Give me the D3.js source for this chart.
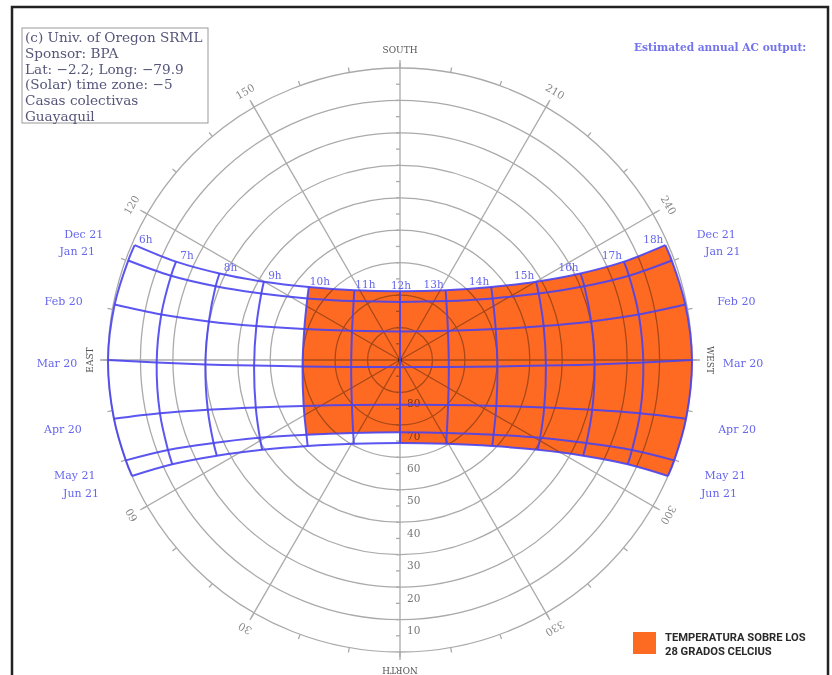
<!DOCTYPE html>
<html>
<head>
<meta charset="utf-8">
<script src="https://cdn.jsdelivr.net/npm/d3@7"></script>
<style>
  body { margin: 0; background: #fff; }
  svg { display: block; }
  .serif { font-family: "DejaVu Serif", "Liberation Serif", serif; }
</style>
</head>
<body>
<svg id="chart" width="832" height="675"></svg>
<script>
// ---- data (azimuth from north, clockwise; altitude in degrees) ----
const dateNames = ["Dec 21", "Jan 21", "Feb 20", "Mar 20", "Apr 20", "May 21", "Jun 21"];
const hourLabels = ["6h", "7h", "8h", "9h", "10h", "11h", "12h", "13h", "14h", "15h", "16h", "17h", "18h"];

const azDec21  = [113.4, 113.7, 115.6, 119.9, 128.7, 146.8, 180, 213.2, 231.3, 240.1, 244.4, 246.3, 246.6];
const altDec21 = [0.9, 14.6, 28.3, 41.6, 54.0, 64.3, 68.8, 64.3, 54.0, 41.6, 28.3, 14.6, 0.9];
const azJan21  = [110.1, 110.2, 111.8, 115.6, 123.6, 141.8, 180, 218.2, 236.4, 244.4, 248.2, 249.8, 249.9];
const altJan21 = [0.8, 14.8, 28.8, 42.6, 55.7, 66.9, 72.1, 66.9, 55.7, 42.6, 28.8, 14.8, 0.8];
const azFeb20  = [101.0, 100.8, 101.4, 103.3, 107.9, 121.3, 180, 238.7, 252.1, 256.7, 258.6, 259.2, 259.0];
const altFeb20 = [0.4, 15.1, 29.9, 44.5, 59.0, 72.7, 81.2, 72.7, 59.0, 44.5, 29.9, 15.1, 0.4];
const azMar20  = [90, 89.4, 88.7, 87.8, 86.2, 81.9, 0, 278.1, 273.8, 272.2, 271.3, 270.6, 270];
const altMar20 = [0, 15.0, 30.0, 45.0, 59.9, 74.8, 87.8, 74.8, 59.9, 45.0, 30.0, 15.0, 0];
const azApr20  = [78.4, 77.5, 75.5, 71.8, 64.5, 46.9, 0, 313.1, 295.5, 288.2, 284.5, 282.5, 281.6];
const altApr20 = [0, 14.2, 28.8, 43.2, 57.1, 69.7, 76.2, 69.7, 57.1, 43.2, 28.8, 14.2, 0];
const azMay21  = [69.9, 68.8, 66.0, 61.0, 51.4, 32.7, 0, 327.3, 308.6, 299.0, 294.0, 291.2, 290.1];
const altMay21 = [0, 13.3, 27.1, 40.6, 53.1, 63.3, 67.7, 63.3, 53.1, 40.6, 27.1, 13.3, 0];
const azJun21  = [66.6, 65.4, 62.4, 56.9, 47.0, 28.8, 0, 331.2, 313.0, 303.1, 297.6, 294.6, 293.4];
const altJun21 = [0, 12.8, 26.3, 39.3, 51.1, 60.5, 64.4, 60.5, 51.1, 39.3, 26.3, 12.8, 0];

const ringAltitudes = [0, 10, 20, 30, 40, 50, 60, 70, 80];
const ringLabels = ["10", "20", "30", "40", "50", "60", "70", "80"];
const spokeAzimuths = [0, 30, 60, 90, 120, 150, 180, 210, 240, 270, 300, 330];
const spokeLabels = ["NORTH", "30", "60", "EAST", "120", "150", "SOUTH", "210", "240", "WEST", "300", "330"];

// hot period (> 28 °C): 10h–18h from Dec 21 to May 21, 12h–18h down to Jun 21
const hotFirstHour = "10h";
const hotSplitHour = "12h";
const hotLastHour = "18h";
const hotMorningLastDate = "May 21";
const hotLastDate = "Jun 21";

const infoLines = ["(c) Univ. of Oregon SRML", "Sponsor: BPA", "Lat: \u22122.2; Long: \u221279.9",
                   "(Solar) time zone: \u22125", "Casas colectivas", "Guayaquil"];

// ---- setup ----
const svg = d3.select("#chart");
const cx = 400, cy = 360, R = 292;

const radius = d3.scaleLinear().domain([90, 0]).range([0, R]);
// south at top, east on the left
const angle = d3.scaleLinear().domain([0, 360]).range([Math.PI, 3 * Math.PI]);

const paths = [
  { name: dateNames[0], az: azDec21, alt: altDec21 },
  { name: dateNames[1], az: azJan21, alt: altJan21 },
  { name: dateNames[2], az: azFeb20, alt: altFeb20 },
  { name: dateNames[3], az: azMar20, alt: altMar20 },
  { name: dateNames[4], az: azApr20, alt: altApr20 },
  { name: dateNames[5], az: azMay21, alt: altMay21 },
  { name: dateNames[6], az: azJun21, alt: altJun21 }
];
paths.forEach(p => p.pts = p.az.map((a, j) => ({ az: a, alt: p.alt[j] })));

const proj = d => d3.pointRadial(angle(d.az), radius(d.alt));

const line = d3.lineRadial()
  .angle(d => angle(d.az))
  .radius(d => radius(d.alt))
  .curve(d3.curveCatmullRom.alpha(0.5));

const hourLine = j => paths.map(p => p.pts[j]);

const g = svg.append("g").attr("transform", `translate(${cx},${cy})`);

// ---- grid ----
const grid = g.append("g").attr("fill", "none").attr("stroke", "#aaa").attr("stroke-width", 1.3);

grid.selectAll("circle").data(ringAltitudes).join("circle")
  .attr("r", d => radius(d));

grid.selectAll("line.spoke").data(spokeAzimuths).join("line")
  .attr("class", "spoke")
  .attr("x1", 0).attr("y1", 0)
  .attr("x2", d => d3.pointRadial(angle(d), R + 8)[0])
  .attr("y2", d => d3.pointRadial(angle(d), R + 8)[1]);

grid.selectAll("line.tick").data(d3.range(0, 360, 10)).join("line")
  .attr("class", "tick")
  .attr("x1", d => d3.pointRadial(angle(d), R)[0])
  .attr("y1", d => d3.pointRadial(angle(d), R)[1])
  .attr("x2", d => d3.pointRadial(angle(d), R + 5)[0])
  .attr("y2", d => d3.pointRadial(angle(d), R + 5)[1]);

// small altitude ticks along the N-S axis
const axisTicks = d3.range(5, 90, 5);
grid.selectAll("line.ntick").data(axisTicks).join("line")
  .attr("class", "ntick")
  .attr("x1", -4).attr("x2", 0)
  .attr("y1", d => radius(d)).attr("y2", d => radius(d));
grid.selectAll("line.stick").data(axisTicks).join("line")
  .attr("class", "stick")
  .attr("x1", -4).attr("x2", 0)
  .attr("y1", d => -radius(d)).attr("y2", d => -radius(d));

g.append("circle").attr("r", 2).attr("fill", "#333");

// ring labels along the north axis
g.append("g").attr("class", "serif")
  .selectAll("text").data(ringLabels).join("text")
  .attr("x", 7)
  .attr("y", d => radius(+d) + 11)
  .attr("dy", "0.35em")
  .attr("font-size", 10.5)
  .attr("fill", "#777")
  .text(d => d);

// azimuth labels, written along the circle
g.append("g").attr("class", "serif")
  .selectAll("text").data(spokeAzimuths).join("text")
  .attr("transform", d => {
    const [x, y] = d3.pointRadial(angle(d), R + 18);
    const rot = angle(d) * 180 / Math.PI;
    return `translate(${x},${y}) rotate(${rot})`;
  })
  .attr("text-anchor", "middle")
  .attr("dy", "0.35em")
  .attr("font-size", (d, i) => isNaN(+spokeLabels[i]) ? 9 : 10.5)
  .attr("fill", (d, i) => isNaN(+spokeLabels[i]) ? "#555" : "#888")
  .text((d, i) => spokeLabels[i]);

// ---- hot region ----
const hi = h => hourLabels.indexOf(h);
const di = n => dateNames.indexOf(n);
const seg = pts => line(pts);
const joinSeg = pts => "L" + seg(pts).slice(1);

const h0 = hi(hotFirstHour), hs = hi(hotSplitHour), h1 = hi(hotLastHour);
const dm = di(hotMorningLastDate), dl = di(hotLastDate);

const hotPath =
  seg(paths[0].pts.slice(h0, h1 + 1)) +
  joinSeg(hourLine(h1).slice(0, dl + 1)) +
  joinSeg(paths[dl].pts.slice(hs, h1 + 1).reverse()) +
  joinSeg(hourLine(hs).slice(dm, dl + 1).reverse()) +
  joinSeg(paths[dm].pts.slice(h0, hs + 1).reverse()) +
  joinSeg(hourLine(h0).slice(0, dm + 1).reverse()) + "Z";

g.append("path")
  .attr("d", hotPath)
  .attr("fill", "#ff6a22")
  .style("mix-blend-mode", "multiply");

// ---- sun path lines ----
const sun = g.append("g").attr("fill", "none").attr("stroke", "#4a44ee")
  .attr("stroke-width", 2).attr("stroke-opacity", 0.9);

sun.selectAll("path.date").data(paths).join("path")
  .attr("class", "date")
  .attr("d", p => line(p.pts));

sun.selectAll("path.hour").data(hourLabels).join("path")
  .attr("class", "hour")
  .attr("d", (h, j) => line(hourLine(j)));

// hour labels above the Dec 21 line
g.append("g").attr("class", "serif")
  .selectAll("text").data(hourLabels).join("text")
  .attr("x", (h, j) => proj(paths[0].pts[j])[0] + (j < 6 ? 11 : j > 6 ? -12 : 1))
  .attr("y", (h, j) => proj(paths[0].pts[j])[1] - 6)
  .attr("dy", "0.35em")
  .attr("text-anchor", "middle")
  .attr("font-size", 10.5)
  .attr("fill", "#6666ee")
  .text(h => h);

// date labels at both ends
const dateLabels = g.append("g").attr("class", "serif")
  .attr("font-size", 11).attr("fill", "#6666ee").attr("text-anchor", "middle");
[0, hourLabels.length - 1].forEach((j, side) => {
  dateLabels.selectAll(`text.s${side}`).data(paths).join("text")
    .attr("class", `s${side}`)
    .attr("x", p => proj(p.pts[j])[0] + (side ? 51 : -51))
    .attr("y", p => {
      const y = proj(p.pts[j])[1];
      return y + 3 + 0.12 * y;
    })
    .attr("dy", "0.35em")
    .text(p => p.name);
});

// ---- frame, info box, legend ----
svg.append("rect")
  .attr("x", 12).attr("y", 7).attr("width", 816).attr("height", 690)
  .attr("fill", "none").attr("stroke", "#222").attr("stroke-width", 2.5);

svg.append("rect")
  .attr("x", 22).attr("y", 28).attr("width", 186).attr("height", 95)
  .attr("fill", "#fff").attr("stroke", "#999").attr("stroke-width", 1);

svg.append("g").attr("class", "serif")
  .selectAll("text").data(infoLines).join("text")
  .attr("x", 25)
  .attr("y", (d, i) => 42 + i * 15.8)
  .attr("font-size", 13.6)
  .attr("fill", "#55557a")
  .text(d => d);

svg.append("text").attr("class", "serif")
  .attr("x", 634).attr("y", 51)
  .attr("font-size", 10.6).attr("font-weight", "bold")
  .attr("fill", "#7373ee")
  .text("Estimated annual AC output:");

svg.append("rect")
  .attr("x", 633).attr("y", 632).attr("width", 23).attr("height", 22)
  .attr("fill", "#fd6a21");

svg.append("g")
  .attr("font-family", "Roboto, 'DejaVu Sans', sans-serif")
  .attr("font-weight", 700).attr("font-size", 11.2).attr("fill", "#2a2a2a")
  .selectAll("text").data(["TEMPERATURA SOBRE LOS", "28 GRADOS CELCIUS"]).join("text")
  .attr("x", 665)
  .attr("y", (d, i) => 641 + i * 14)
  .text(d => d);
</script>
</body>
</html>
